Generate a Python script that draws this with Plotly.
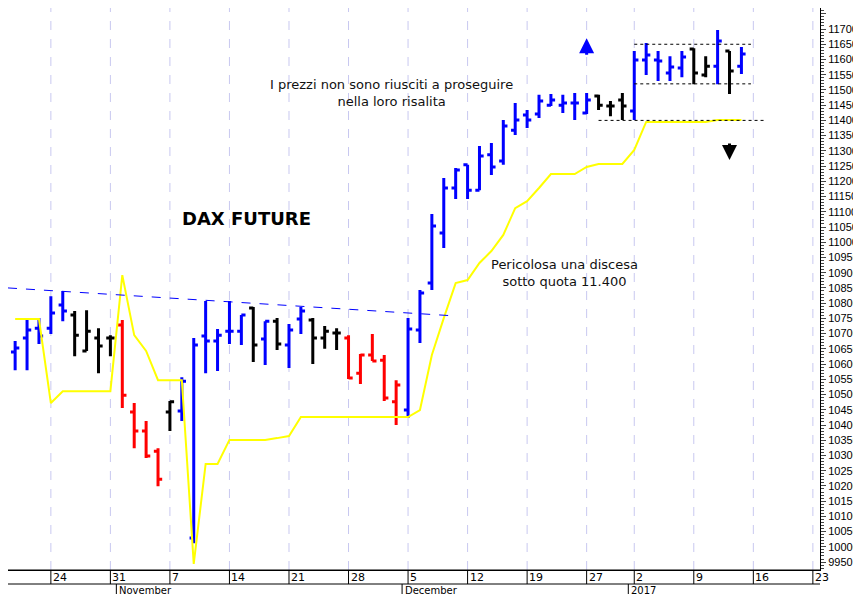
import plotly.graph_objects as go

# trading days Oct 19 2016 .. Jan 13 2017 (index positions)
dates = ["2016-10-19", "2016-10-20", "2016-10-21", "2016-10-24", "2016-10-25", "2016-10-26", "2016-10-27",
         "2016-10-28", "2016-10-31", "2016-11-01", "2016-11-02", "2016-11-03", "2016-11-04", "2016-11-07",
         "2016-11-08", "2016-11-09", "2016-11-10", "2016-11-11", "2016-11-14", "2016-11-15", "2016-11-16",
         "2016-11-17", "2016-11-18", "2016-11-21", "2016-11-22", "2016-11-23", "2016-11-24", "2016-11-25",
         "2016-11-28", "2016-11-29", "2016-11-30", "2016-12-01", "2016-12-02", "2016-12-05", "2016-12-06",
         "2016-12-07", "2016-12-08", "2016-12-09", "2016-12-12", "2016-12-13", "2016-12-14", "2016-12-15",
         "2016-12-16", "2016-12-19", "2016-12-20", "2016-12-21", "2016-12-22", "2016-12-23", "2016-12-27",
         "2016-12-28", "2016-12-29", "2016-12-30", "2017-01-02", "2017-01-03", "2017-01-04", "2017-01-05",
         "2017-01-06", "2017-01-09", "2017-01-10", "2017-01-11", "2017-01-12", "2017-01-13"]

opens = [10640, 10686, 10718, 10718, 10794, 10761, 10643, 10686, 10686, 10728, 10443, 10380, 10314, 10443,
         10446, 10029, 10692, 10676, 10708, 10708, 10784, 10682, 10741, 10663, 10748, 10745, 10686, 10702,
         10686, 10570, 10630, 10613, 10476, 10449, 10712, 10866, 11030, 11178, 11254, 11171, 11287, 11267,
         11368, 11418, 11421, 11450, 11450, 11457, 11424, 11480, 11447, 11467, 11431, 11598, 11598, 11556,
         11572, 11634, 11549, 11578, 11628, 11578]
highs = [10676, 10745, 10751, 10823, 10840, 10774, 10777, 10718, 10695, 10745, 10472, 10413, 10324, 10479,
         10557, 10686, 10807, 10715, 10807, 10761, 10787, 10741, 10751, 10732, 10787, 10751, 10725, 10718,
         10695, 10633, 10699, 10630, 10547, 10751, 10843, 11093, 11211, 11244, 11254, 11316, 11326, 11401,
         11457, 11434, 11484, 11487, 11484, 11490, 11490, 11484, 11464, 11490, 11628, 11654, 11628, 11611,
         11628, 11637, 11611, 11697, 11628, 11641]
lows = [10580, 10580, 10666, 10699, 10741, 10626, 10643, 10570, 10626, 10456, 10324, 10292, 10199, 10380,
        10413, 10012, 10570, 10577, 10666, 10663, 10607, 10597, 10646, 10587, 10699, 10600, 10650, 10646,
        10551, 10535, 10610, 10479, 10400, 10423, 10669, 10843, 10981, 11142, 11142, 11171, 11221, 11254,
        11352, 11375, 11408, 11447, 11424, 11401, 11421, 11434, 11414, 11401, 11401, 11549, 11529, 11529,
        11542, 11519, 11542, 11519, 11487, 11552]
closes = [10653, 10712, 10692, 10768, 10774, 10695, 10708, 10659, 10686, 10498, 10380, 10298, 10222, 10476,
          10544, 10663, 10676, 10695, 10708, 10761, 10663, 10741, 10666, 10712, 10774, 10686, 10708, 10702,
          10554, 10630, 10610, 10489, 10531, 10715, 10833, 11053, 11178, 11237, 11171, 11283, 11247, 11382,
          11401, 11401, 11464, 11467, 11457, 11457, 11467, 11450, 11447, 11447, 11598, 11615, 11595, 11575,
          11608, 11556, 11578, 11661, 11562, 11618]
# b = blue, k = black, r = red
trend = list("bbbbbkkkkrrrrkbbbbbbkbkbbkkkrrrrrbbbbbbbbbbbbbbbbkkkbbbbbkkbkb")

stop_line = [10748, 10748, 10748, 10472, 10511, 10511, 10511, 10511, 10511, 10892, 10695, 10643, 10547, 10547,
             10547, 9944, 10272, 10272, 10351, 10351, 10351, 10351, 10357, 10364, 10426, 10426, 10426, 10426,
             10426, 10426, 10426, 10426, 10426, 10426, 10449, 10630, 10751, 10866, 10876, 10932, 10971, 11024,
             11112, 11135, 11178, 11224, 11224, 11224, 11247, 11257, 11257, 11257, 11303, 11395, 11395, 11395,
             11395, 11395, 11395, 11401, 11401, 11401]

week_pos = [3, 8, 13, 18, 23, 28, 33, 38, 43, 48, 52, 57, 62, 67]
week_labels = ["24", "31", "7", "14", "21", "28", "5", "12", "19", "27", "2", "9", "16", "23"]
month_pos = [9, 33, 52]
month_labels = ["November", "December", "2017"]

x = list(range(len(dates)))
colors = {"b": "#0000ff", "k": "#000000", "r": "#ff0000"}

fig = go.Figure()
for key, col in colors.items():
    idx = [i for i in x if trend[i] == key]
    fig.add_trace(go.Ohlc(
        x=idx, open=[opens[i] for i in idx], high=[highs[i] for i in idx],
        low=[lows[i] for i in idx], close=[closes[i] for i in idx],
        increasing=dict(line=dict(color=col, width=3)),
        decreasing=dict(line=dict(color=col, width=3)),
        tickwidth=0.35, showlegend=False, hoverinfo="skip"))

fig.add_trace(go.Scatter(x=x, y=stop_line, mode="lines", line=dict(color="#ffff00", width=2),
                         showlegend=False, hoverinfo="skip"))

# trendline and range lines
fig.add_shape(type="line", x0=-0.6, y0=10850, x1=37, y1=10758, line=dict(color="#0000ff", width=1, dash="dash"))
for y0, xa, xb in [(11650, 52, 61.8), (11520, 52, 61.8), (11400, 49, 63)]:
    fig.add_shape(type="line", x0=xa, x1=xb, y0=y0, y1=y0, line=dict(color="black", width=1, dash="dot"))

for p in week_pos:
    fig.add_shape(type="line", x0=p, x1=p, y0=0, y1=1, yref="paper",
                  line=dict(color="#c8c8f0", width=1, dash="dash"), layer="below")

# bottom date axis rows (pixel offsets below the plot area)
fig.add_shape(type="line", xref="paper", yref="paper", x0=0, x1=1, y0=0, y1=0, ysizemode="pixel",
              yanchor=0, line=dict(color="black", width=1))
fig.add_shape(type="line", xref="paper", yref="paper", x0=0, x1=1, y0=-14, y1=-14, ysizemode="pixel",
              yanchor=0, line=dict(color="black", width=1))
for p, lab in zip(week_pos, week_labels):
    fig.add_shape(type="line", x0=p, x1=p, yref="paper", y0=0, y1=-14, ysizemode="pixel", yanchor=0,
                  line=dict(color="black", width=1))
    fig.add_annotation(x=p, y=0, yref="paper", text=lab, showarrow=False, xanchor="left", yanchor="top",
                       yshift=1, font=dict(size=11, color="black"))
for p, lab in zip(month_pos, month_labels):
    fig.add_shape(type="line", x0=p - 0.5, x1=p - 0.5, yref="paper", y0=-14, y1=-30, ysizemode="pixel",
                  yanchor=0, line=dict(color="black", width=1))
    fig.add_annotation(x=p - 0.5, y=0, yref="paper", text=lab, showarrow=False, xanchor="left",
                       yanchor="top", yshift=-13, xshift=1, font=dict(size=10, color="black"))

# arrows
fig.add_annotation(x=48, y=11670, ax=0, ay=18, text="", showarrow=True, arrowhead=2, arrowsize=1,
                   arrowwidth=3, arrowcolor="#0000ff")
fig.add_annotation(x=60, y=11270, ax=0, ay=-18, text="", showarrow=True, arrowhead=2, arrowsize=1,
                   arrowwidth=3, arrowcolor="black")

fig.add_annotation(x=0.32, y=0.88, xref="paper", yref="paper", showarrow=False,
                   text="I prezzi non sono riusciti a proseguire<br>nella loro risalita",
                   font=dict(size=13, color="#111", family="DejaVu Sans"))
fig.add_annotation(x=0.212, y=0.625, xref="paper", yref="paper", showarrow=False,
                   text="<b>DAX FUTURE</b>", font=dict(size=18, color="black", family="DejaVu Sans"))
fig.add_annotation(x=0.778, y=0.528, xref="paper", yref="paper", showarrow=False,
                   text="Pericolosa una discesa<br>sotto quota 11.400",
                   font=dict(size=13, color="#111", family="DejaVu Sans"))

fig.update_layout(
    width=861, height=594, margin=dict(l=0, r=49, t=0, b=32),
    paper_bgcolor="white", plot_bgcolor="white",
    font=dict(family="DejaVu Sans", size=11, color="black"),
    xaxis=dict(range=[-0.6, 67.6], showticklabels=False, showgrid=False, zeroline=False,
               rangeslider=dict(visible=False), showline=True, linecolor="black", mirror=True),
    yaxis=dict(range=[9924, 11769], side="right", dtick=50, tick0=0, tickformat="d", showgrid=False,
               zeroline=False, ticks="outside", ticklen=5, showline=True, linecolor="black", mirror=True,
               minor=dict(ticks="outside", ticklen=3, dtick=10),
               tickfont=dict(size=11, family="Liberation Sans")),
)

fig.write_html("out.html")
